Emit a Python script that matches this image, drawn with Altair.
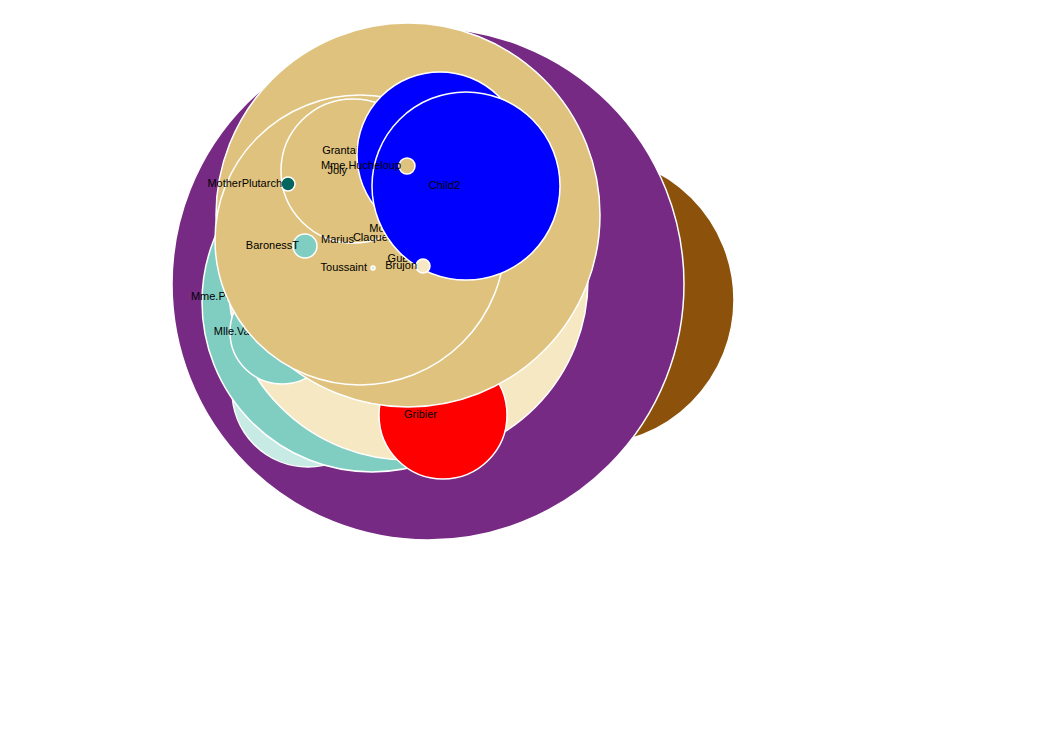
import altair as alt
import pandas as pd

# Nodes in drawing order (later ones are painted on top)
names = ["Myriel", "Valjean", "Cosette", "Mme.Thenardier", "Mme.Pontmercy", "Thenardier",
         "Gribier", "Mlle.Vaubois", "Javert", "Marius", "Joly", "MotherPlutarch", "BaronessT",
         "Grantaire", "Toussaint", "Montparnasse", "Claquesous", "Gueulemer", "Child1",
         "Child2", "Mme.Hucheloup", "Brujon"]
xs = [589, 428, 308, 372, 277, 408, 443, 282, 408, 360, 353, 288, 305, 374, 373, 445, 417, 448,
      440, 466, 407, 423]
ys = [300, 284, 391, 302, 297, 280, 415, 332, 215, 240, 171, 184, 246, 151, 268, 229, 238, 259,
      155, 186, 166, 266]
radius = [145, 256, 76, 170, 6, 180, 64, 52, 192, 145, 72, 7, 12, 5, 2, 6, 6, 6, 83, 94, 8, 7]
group = ["g1", "g2", "g3", "g4", "g4", "g5", "g6", "g4", "g7", "g7", "g7", "g8", "g4", "g7",
         "g3", "g5", "g5", "g5", "g9", "g9", "g7", "g5"]

# a label painted later than its own circle: label of key is drawn right after node value
label_after = {"Marius": "Joly"}

group_domain = ["g1", "g2", "g3", "g4", "g5", "g6", "g7", "g8", "g9"]
group_colors = ["#8c510a", "#762a83", "#c7eae5", "#80cdc1", "#f6e8c3", "#ff0000", "#dfc27d",
                "#01665e", "#0000ff"]

df = pd.DataFrame({"name": names, "x": xs, "y": ys, "r": radius, "group": group})

base = alt.Chart(df).encode(
    x=alt.X("x:Q", scale=alt.Scale(domain=[8, 1048], nice=False, zero=False), axis=None),
    y=alt.Y("y:Q", scale=alt.Scale(domain=[8, 738], nice=False, zero=False, reverse=True), axis=None),
)

circles = base.mark_circle(opacity=1, stroke="white", strokeWidth=1.5).encode(
    size=alt.Size("r:Q", scale=alt.Scale(type="pow", exponent=2, domain=[0, 300], range=[0, 360000]),
                  legend=None),
    color=alt.Color("group:N", scale=alt.Scale(domain=group_domain, range=group_colors), legend=None),
)

labels = base.mark_text(align="right", baseline="middle", dx=-6, fontSize=11,
                        font="Liberation Sans", color="black").encode(text="name:N")

layers = []
for n in names:
    f = alt.datum.name == n
    layers.append(circles.transform_filter(f))
    if n not in label_after:
        layers.append(labels.transform_filter(f))
    for k, v in label_after.items():
        if v == n:
            layers.append(labels.transform_filter(alt.datum.name == k))

chart = alt.layer(*layers).properties(
    width=1040, height=730, padding=0, autosize="none"
).configure_view(strokeWidth=0)

chart.save("out.html", embed_options={"renderer": "svg", "actions": False})
